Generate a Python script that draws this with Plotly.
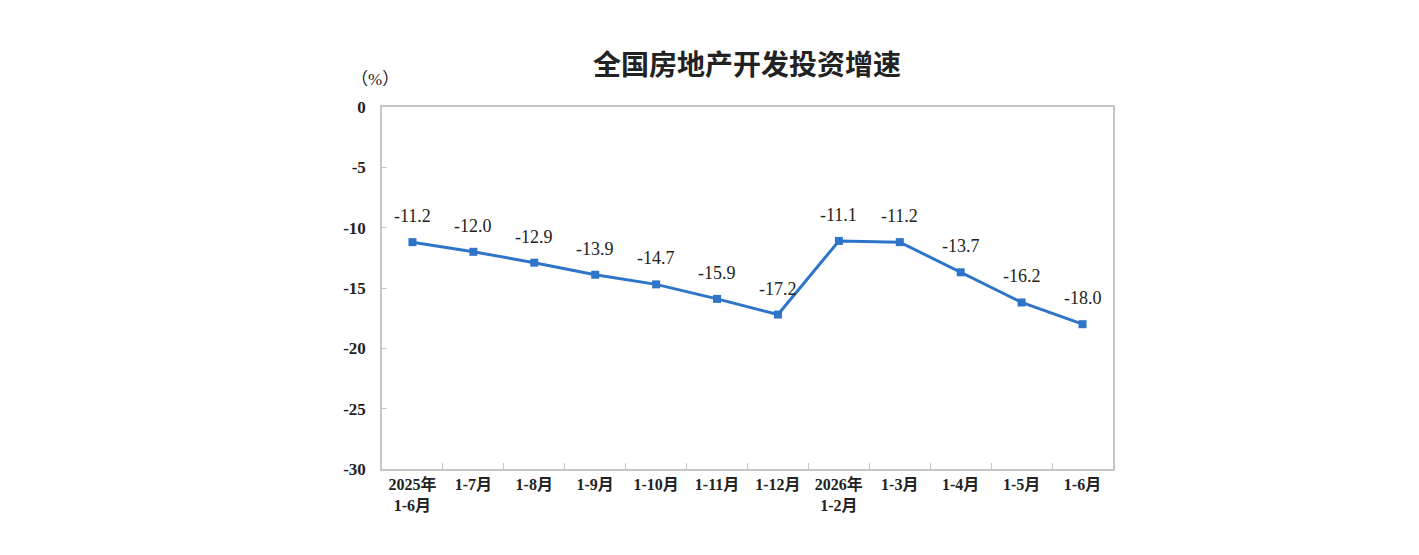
import plotly.graph_objects as go

categories = ["2025年<br>1-6月", "1-7月", "1-8月", "1-9月", "1-10月", "1-11月", "1-12月",
              "2026年<br>1-2月", "1-3月", "1-4月", "1-5月", "1-6月"]
values = [-11.2, -12.0, -12.9, -13.9, -14.7, -15.9, -17.2, -11.1, -11.2, -13.7, -16.2, -18.0]
y_ticks = [0, -5, -10, -15, -20, -25, -30]

serif = "Liberation Serif, Times New Roman, Noto Sans CJK SC"
line_color = "#2e75c9"
axis_color = "#c6c6c6"

# page has an 8px body margin; plot area targets page x 382..1113, y 107..469
L, R, T, B = 374, 314, 99, 94

fig = go.Figure()
fig.add_trace(go.Scatter(
    x=categories, y=values, mode="lines+markers",
    line=dict(color=line_color, width=3),
    marker=dict(symbol="square", size=8, color=line_color),
    hoverinfo="skip",
))

annotations = []
for c, v in zip(categories, values):
    annotations.append(dict(
        x=c, y=v, xref="x", yref="y", text=f"{v:.1f}", showarrow=False,
        yshift=26, font=dict(family=serif, size=18, color="#222222"),
    ))
plot_w = 1419 - L - R
plot_h = 555 - T - B
annotations.append(dict(
    xref="paper", yref="paper",
    x=(367 - L) / plot_w, y=(T + plot_h - 72) / plot_h,
    text="（%）", showarrow=False, xanchor="center", yanchor="middle",
    font=dict(family=serif, size=17, color="#222222"),
))

fig.update_layout(
    width=1419, height=555,
    margin=dict(l=L, r=R, t=T, b=B),
    paper_bgcolor="white", plot_bgcolor="white",
    showlegend=False,
    title=dict(text="<b>全国房地产开发投资增速</b>", x=739 / 1419, xanchor="center",
               y=1 - 57 / 555, yanchor="middle",
               font=dict(family="Noto Sans CJK SC", size=28, color="#222222")),
    annotations=annotations,
    xaxis=dict(
        type="category", range=[-0.5, len(categories) - 0.5],
        showline=True, linecolor=axis_color, linewidth=1.5, mirror=True,
        ticks="inside", ticklen=6, tickcolor=axis_color, tickson="boundaries",
        showgrid=False, zeroline=False,
        tickfont=dict(family=serif, size=16, color="#222222", weight="bold"),
    ),
    yaxis=dict(
        range=[-30, 0], tickvals=y_ticks, ticktext=[str(t) for t in y_ticks],
        showline=True, linecolor=axis_color, linewidth=1.5, mirror=True,
        ticks="inside", ticklen=5, tickcolor=axis_color,
        showgrid=False, zeroline=False, ticklabelstandoff=11,
        tickfont=dict(family=serif, size=17, color="#222222", weight="bold"),
    ),
)

fig.write_html("out.html")
